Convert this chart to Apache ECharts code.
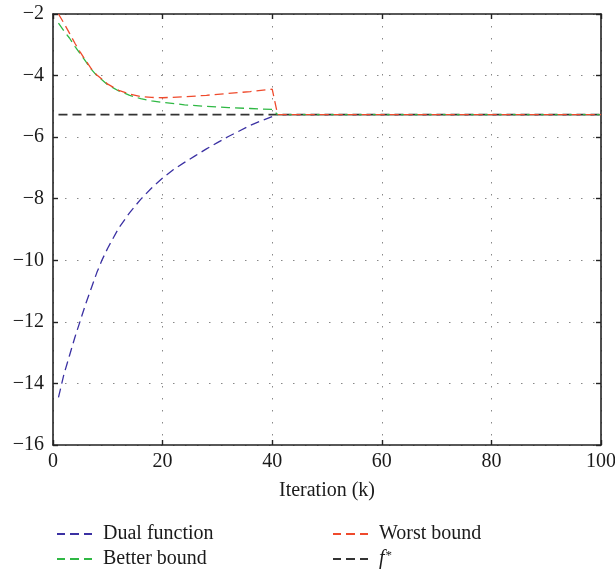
<!DOCTYPE html>
<html>
<head>
<meta charset="utf-8">
<script src="https://cdn.jsdelivr.net/npm/echarts@6/dist/echarts.min.js"></script>
<style>
    html, body { margin: 0; padding: 0; background: #fff; }
    #chart { width: 615px; height: 575px; }
</style>
</head>
<body>
<div id="chart"></div>
<script>
'use strict';

// values
const dualX = [1, 2, 3, 4, 5, 6, 7, 8, 9, 10, 12, 14, 16, 18, 20, 22, 24, 26, 28, 30, 32, 34, 36, 38, 40, 41, 60, 80, 100];
const dualY = [-14.45, -13.7, -13.1, -12.5, -11.95, -11.4, -10.9, -10.4, -9.97, -9.6, -8.95, -8.45, -8.02, -7.65, -7.33, -7.05, -6.82, -6.6, -6.38, -6.18, -5.98, -5.8, -5.62, -5.47, -5.33, -5.27, -5.27, -5.27, -5.27];

const betterX = [1, 2, 3, 4, 5, 6, 7, 8, 10, 12, 14, 16, 18, 20, 24, 28, 32, 36, 40, 41, 60, 80, 100];
const betterY = [-2.3, -2.55, -2.78, -3.05, -3.3, -3.55, -3.8, -4.0, -4.3, -4.5, -4.64, -4.75, -4.82, -4.87, -4.95, -5.0, -5.04, -5.07, -5.1, -5.27, -5.27, -5.27, -5.27];

const worstX = [1, 2, 3, 4, 5, 6, 7, 8, 10, 12, 14, 16, 18, 20, 24, 28, 32, 36, 40, 41, 60, 80, 100];
const worstY = [-2.0, -2.3, -2.62, -2.95, -3.25, -3.52, -3.78, -3.98, -4.28, -4.48, -4.6, -4.68, -4.71, -4.72, -4.69, -4.64, -4.58, -4.52, -4.44, -5.27, -5.27, -5.27, -5.27];

const fStar = -5.27;
const fStarX = [1, 100];

const xTicks = { min: 0, max: 100, interval: 20 };
const yTicks = { min: -16, max: -2, interval: 2 };

const pair = (xs, ys) => xs.map((x, i) => [x, ys[i]]);

const font = 'Liberation Serif';
const fontSize = 20;
const ink = '#1a1a1a';
const minus = (v) => String(v).replace('-', '\u2212');

const gridLine = { show: true, lineStyle: { color: '#888', type: [1.5, 10.5], width: 1 } };
const boxLine = { show: true, onZero: false, lineStyle: { color: '#222', width: 1.6 } };
const innerTick = { show: true, inside: true, length: 5, lineStyle: { color: '#222', width: 1.4 } };

// three short dashes, like the legend samples in the figure
const dashIcon = 'path://M0,0h8v2h-8z M13,0h9v2h-9z M27,0h8v2h-8z';

const line = (name, data, color, width) => ({
    name,
    type: 'line',
    data,
    symbol: 'none',
    silent: true,
    lineStyle: { color, width, type: [9, 5] },
    itemStyle: { color },
});

const legendBase = {
    top: 519,
    orient: 'vertical',
    icon: dashIcon,
    itemWidth: 35,
    itemHeight: 2,
    itemGap: 5,
    textStyle: { fontFamily: font, fontSize, color: ink, padding: [0, 0, 0, 6] },
};

const chart = echarts.init(document.getElementById('chart'));

chart.setOption({
    animation: false,
    grid: { left: 53, right: 14, top: 14, bottom: 130, outerBoundsMode: 'none' },
    xAxis: [
        {
            type: 'value',
            ...xTicks,
            name: 'Iteration (k)',
            nameLocation: 'middle',
            nameGap: 36,
            nameTextStyle: { fontFamily: font, fontSize, color: ink },
            axisLine: boxLine,
            axisTick: innerTick,
            axisLabel: { fontFamily: font, fontSize, color: ink, margin: 7 },
            splitLine: gridLine,
        },
        {
            type: 'value',
            position: 'top',
            ...xTicks,
            axisLine: boxLine,
            axisTick: innerTick,
            axisLabel: { show: false },
            splitLine: { show: false },
        },
    ],
    yAxis: [
        {
            type: 'value',
            ...yTicks,
            axisLine: boxLine,
            axisTick: innerTick,
            axisLabel: { fontFamily: font, fontSize, color: ink, margin: 9, formatter: minus },
            splitLine: gridLine,
        },
        {
            type: 'value',
            position: 'right',
            ...yTicks,
            axisLine: boxLine,
            axisTick: innerTick,
            axisLabel: { show: false },
            splitLine: { show: false },
        },
    ],
    legend: [
        {
            ...legendBase,
            left: 52,
            data: ['Dual function', 'Better bound'],
        },
        {
            ...legendBase,
            left: 328,
            data: ['Worst bound', 'f*'],
            formatter: (n) => (n === 'f*' ? '{i|f}{s|*}' : n),
            textStyle: {
                ...legendBase.textStyle,
                rich: {
                    i: { fontFamily: font, fontSize, fontStyle: 'italic', color: ink },
                    s: { fontFamily: font, fontSize: 13, color: ink, verticalAlign: 'top', padding: [0, 0, 7, 1] },
                },
            },
        },
    ],
    series: [
        line('f*', pair(fStarX, [fStar, fStar]), '#333', 1.6),
        line('Dual function', pair(dualX, dualY), '#3b31a3', 1.3),
        line('Better bound', pair(betterX, betterY), '#2fb844', 1.3),
        line('Worst bound', pair(worstX, worstY), '#ef4a2c', 1.3),
    ],
});
</script>
</body>
</html>
